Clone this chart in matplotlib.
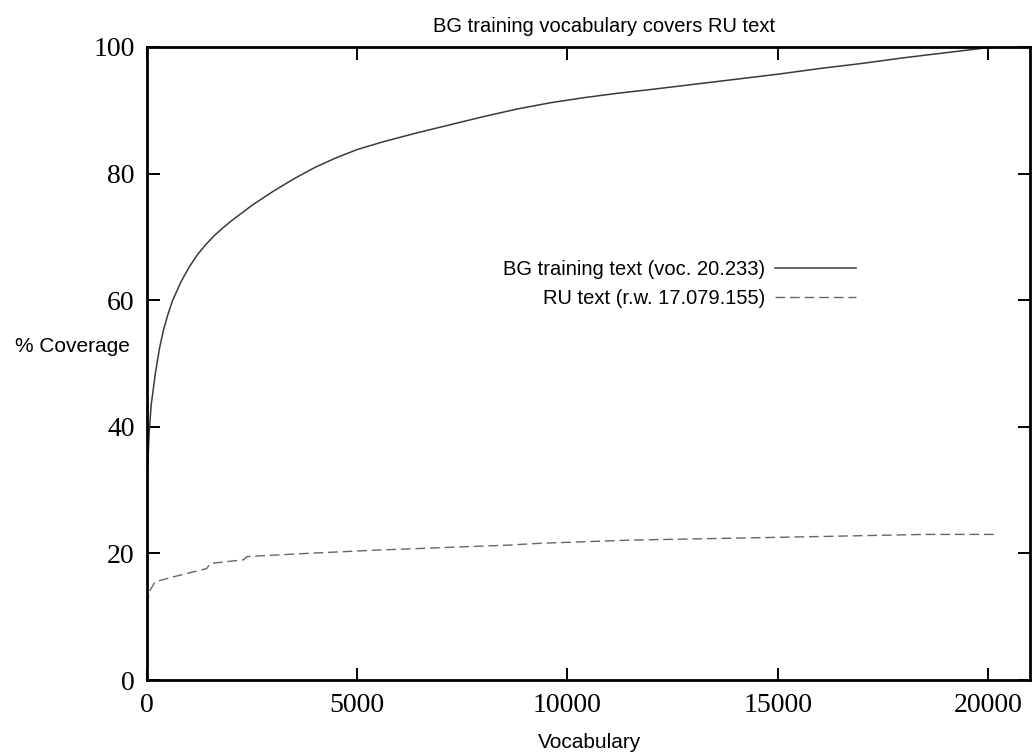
import matplotlib.pyplot as plt

# BG training vocabulary coverage (solid curve)
bg_vocab = [0, 20, 50, 100, 150, 200, 300, 400, 500, 600, 800, 1000, 1200,
            1400, 1600, 1800, 2000, 2500, 3000, 3500, 4000, 4500, 5000, 5600,
            6400, 7200, 8000, 8800, 9600, 10400, 11200, 12000, 13000, 14000,
            15000, 16000, 17000, 18000, 19000, 20000, 20233]
bg_cov = [27, 34, 39, 43.5, 46, 48.5, 52.5, 55.5, 57.8, 59.8, 62.8, 65.2, 67.2,
          68.8, 70.2, 71.4, 72.5, 75.0, 77.2, 79.2, 81.0, 82.5, 83.8, 85.0,
          86.4, 87.7, 89.0, 90.2, 91.2, 92.0, 92.7, 93.3, 94.1, 94.9,
          95.7, 96.6, 97.4, 98.3, 99.1, 99.9, 100.0]

# RU text coverage (dashed curve)
ru_vocab = [0, 60, 190, 630, 1420, 1500, 2300, 2380, 3800, 5390, 6980, 8570,
            9360, 11500, 13880, 16260, 18480, 20233]
ru_cov = [11.8, 14.0, 15.5, 16.3, 17.6, 18.4, 19.0, 19.5, 20.0, 20.5, 20.9,
          21.3, 21.6, 22.1, 22.4, 22.7, 23.0, 23.0]

x_ticks = [0, 5000, 10000, 15000, 20000]
y_ticks = [0, 20, 40, 60, 80, 100]

W, H = 1034, 753
fig = plt.figure(figsize=(W / 100, H / 100), dpi=100)
ax = fig.add_axes([147 / W, 1 - 680 / H, (1030 - 147) / W, (680 - 47) / H])

ax.plot(bg_vocab, bg_cov, color='#3a3a3a', lw=1.1,
        label='BG training text (voc. 20.233)')
ax.plot(ru_vocab, ru_cov, color='#666666', lw=1.0, linestyle=(0, (7, 3.5)),
        label='RU text (r.w. 17.079.155)')

ax.set_xlim(0, 21000)
ax.set_ylim(0, 100)
ax.set_xticks(x_ticks)
ax.set_yticks(y_ticks)
ax.tick_params(direction='in', top=True, right=True, length=9, width=1.4,
               labelsize=20, pad=9)
for lab in ax.get_xticklabels() + ax.get_yticklabels():
    lab.set_family('Liberation Serif')
for s in ax.spines.values():
    s.set_linewidth(2)

sans = 'Liberation Sans'
fig.text(604 / W, 1 - 27 / H, 'BG training vocabulary covers RU text',
         ha='center', va='center', fontsize=14.5, family=sans)
fig.text(590 / W, 1 - 742 / H, 'Vocabulary', ha='center', va='center',
         fontsize=15, family=sans)
fig.text(72 / W, 1 - 346 / H, '% Coverage', ha='center', va='center',
         fontsize=15, family=sans)

ax.legend(loc='center right', bbox_to_anchor=(866 / W, 1 - 284 / H),
          bbox_transform=fig.transFigure, frameon=False, markerfirst=False,
          borderpad=0, handlelength=4.0, handletextpad=0.5, labelspacing=0.5,
          prop={'family': sans, 'size': 14.5})

fig.savefig('out.png', dpi=100)
